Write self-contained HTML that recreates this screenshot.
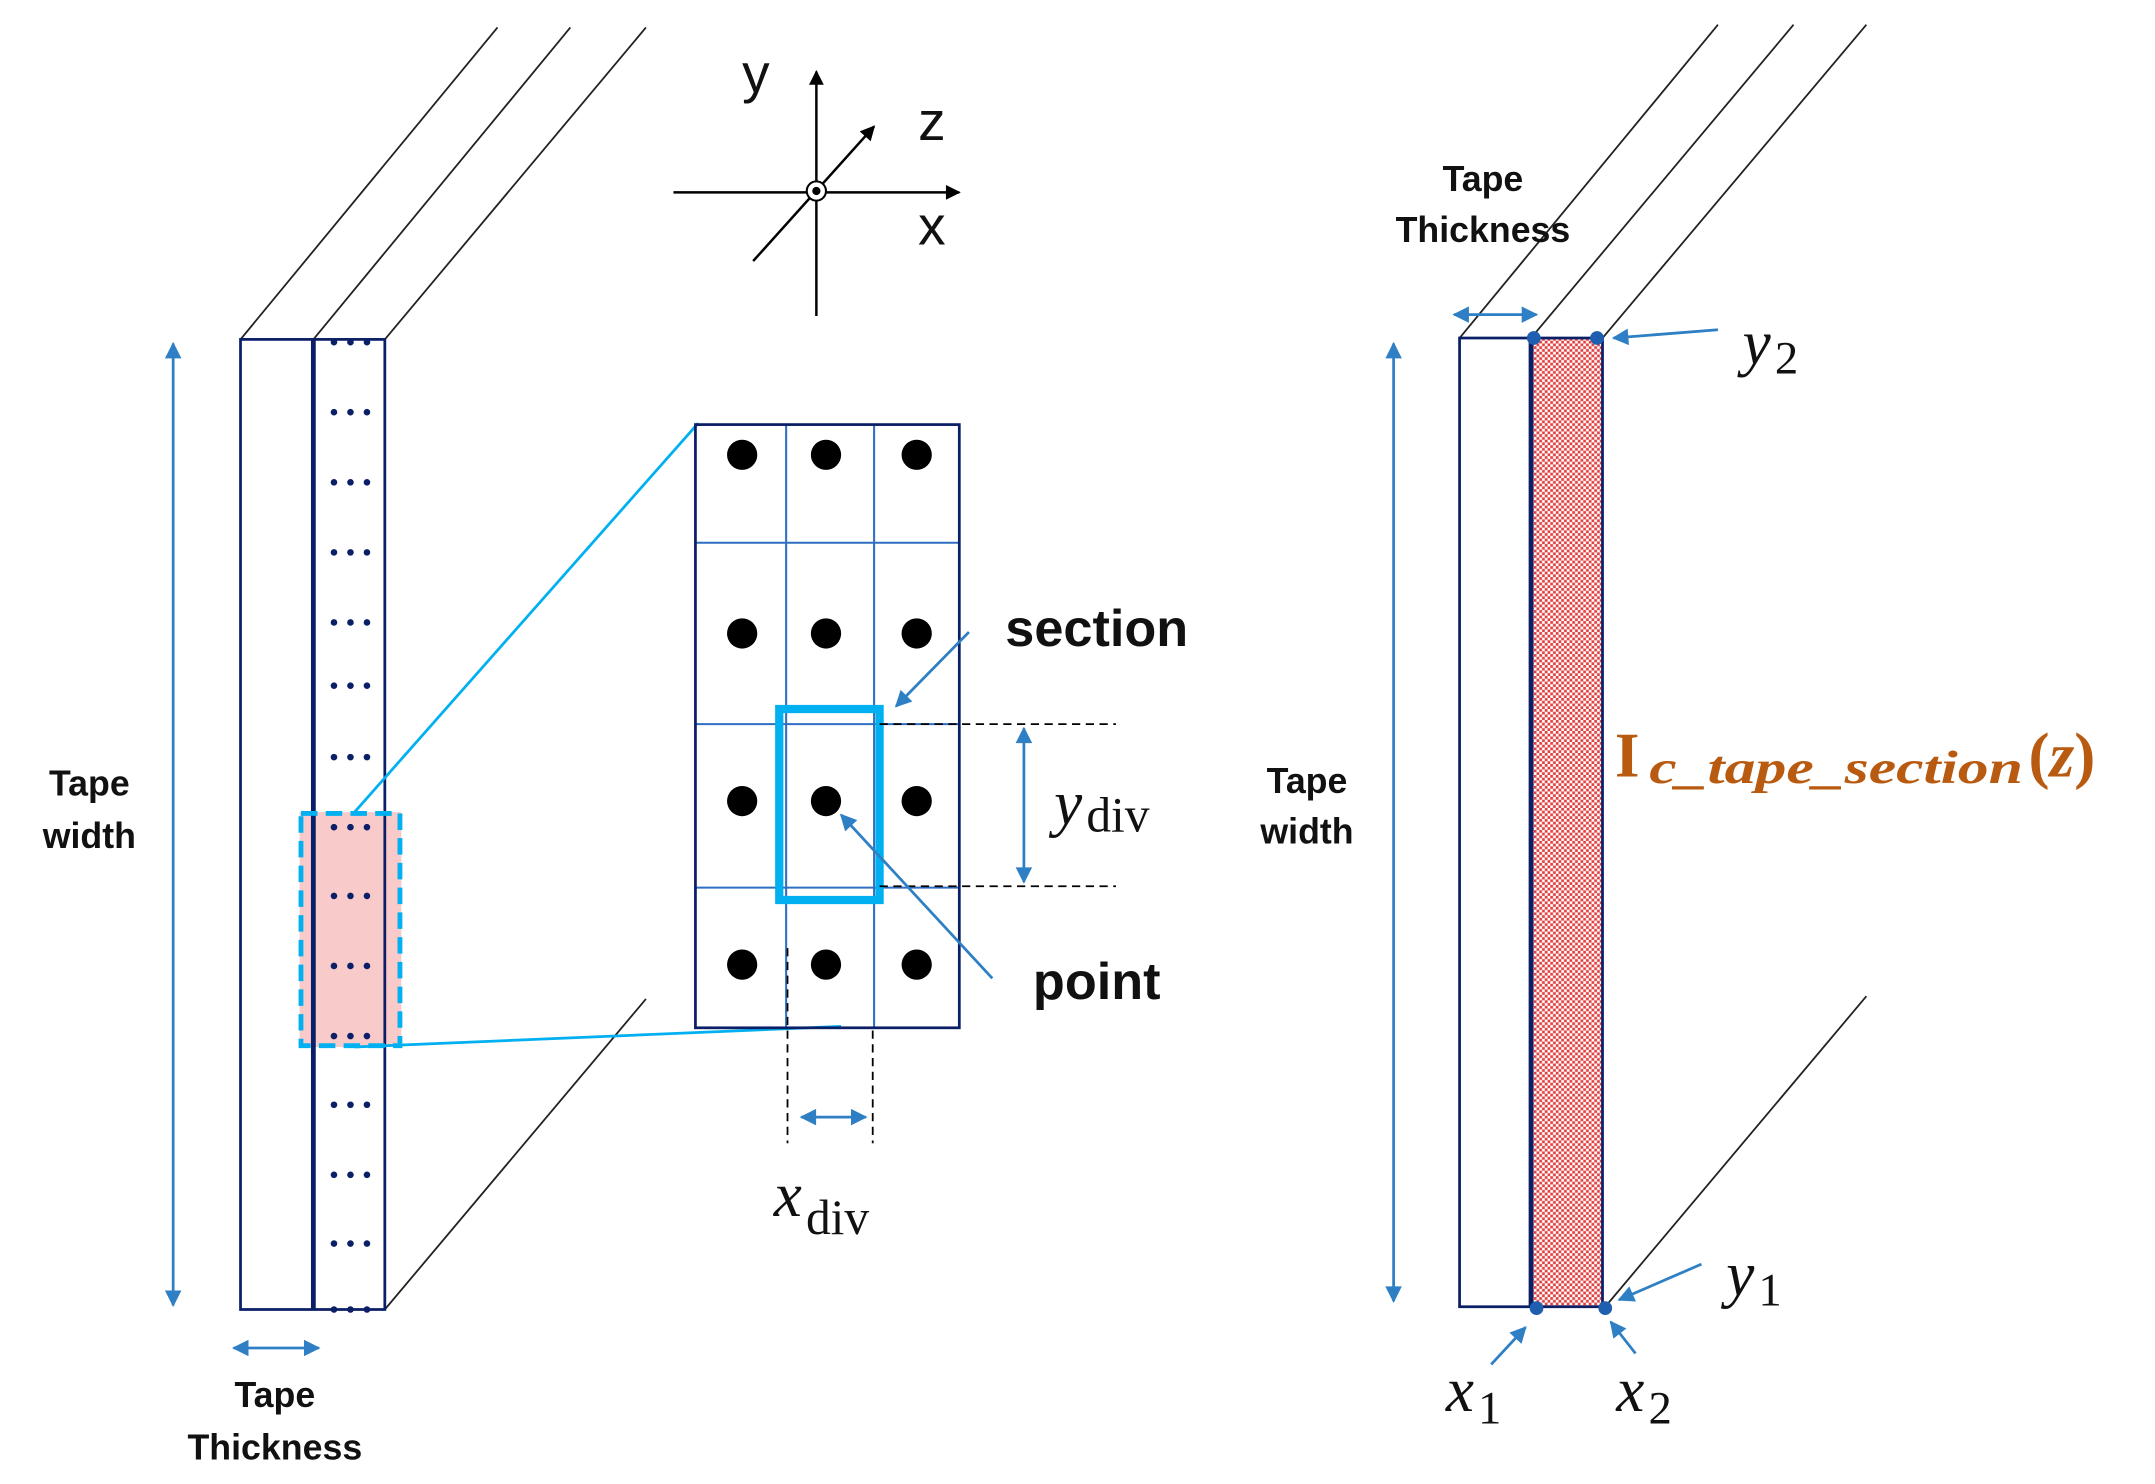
<!DOCTYPE html>
<html><head><meta charset="utf-8"><style>html,body{margin:0;padding:0;background:#fff}svg{display:block}</style></head>
<body>
<svg width="2155" height="1484" viewBox="0 0 1568 1080" preserveAspectRatio="none" xmlns="http://www.w3.org/2000/svg">
<defs>
<marker id="ab" viewBox="0 0 10 10" refX="9" refY="5" markerWidth="7" markerHeight="6" orient="auto-start-reverse"><path d="M0,0L10,5L0,10z" fill="#2e7fc4"/></marker>
<marker id="ak" viewBox="0 0 10 10" refX="9" refY="5" markerWidth="7" markerHeight="6" orient="auto-start-reverse"><path d="M0,0L10,5L0,10z" fill="#000"/></marker>
<pattern id="hatch" width="4" height="4" patternUnits="userSpaceOnUse"><rect width="4" height="4" fill="#fff"/><rect width="2" height="2" fill="#e04040"/><rect x="2" y="2" width="2" height="2" fill="#e04040"/></pattern>
</defs>
<g stroke="#222" stroke-width="1.3" fill="none">
<line x1="175" y1="247" x2="362" y2="20"/><line x1="228" y1="247" x2="415" y2="20"/><line x1="280" y1="247" x2="470" y2="20"/><line x1="280" y1="953" x2="470" y2="727"/>
<line x1="1062" y1="246" x2="1250" y2="18"/><line x1="1114" y1="246" x2="1305" y2="18"/><line x1="1166" y1="246" x2="1358" y2="18"/><line x1="1168" y1="951" x2="1358" y2="725"/>
</g>
<rect x="218" y="591" width="74" height="171" fill="#f9caca"/>
<rect x="175" y="247" width="105" height="706" fill="none" stroke="#0b1f66" stroke-width="2"/>
<line x1="228" y1="247" x2="228" y2="953" stroke="#0b1f66" stroke-width="3.5"/>
<g fill="#0b1f66">
<circle cx="243" cy="249" r="2.4"/><circle cx="255" cy="249" r="2.4"/><circle cx="267" cy="249" r="2.4"/>
<circle cx="243" cy="300" r="2.4"/><circle cx="255" cy="300" r="2.4"/><circle cx="267" cy="300" r="2.4"/>
<circle cx="243" cy="351" r="2.4"/><circle cx="255" cy="351" r="2.4"/><circle cx="267" cy="351" r="2.4"/>
<circle cx="243" cy="402" r="2.4"/><circle cx="255" cy="402" r="2.4"/><circle cx="267" cy="402" r="2.4"/>
<circle cx="243" cy="453" r="2.4"/><circle cx="255" cy="453" r="2.4"/><circle cx="267" cy="453" r="2.4"/>
<circle cx="243" cy="499" r="2.4"/><circle cx="255" cy="499" r="2.4"/><circle cx="267" cy="499" r="2.4"/>
<circle cx="243" cy="551" r="2.4"/><circle cx="255" cy="551" r="2.4"/><circle cx="267" cy="551" r="2.4"/>
<circle cx="243" cy="602" r="2.4"/><circle cx="255" cy="602" r="2.4"/><circle cx="267" cy="602" r="2.4"/>
<circle cx="243" cy="652" r="2.4"/><circle cx="255" cy="652" r="2.4"/><circle cx="267" cy="652" r="2.4"/>
<circle cx="243" cy="703" r="2.4"/><circle cx="255" cy="703" r="2.4"/><circle cx="267" cy="703" r="2.4"/>
<circle cx="243" cy="754" r="2.4"/><circle cx="255" cy="754" r="2.4"/><circle cx="267" cy="754" r="2.4"/>
<circle cx="243" cy="804" r="2.4"/><circle cx="255" cy="804" r="2.4"/><circle cx="267" cy="804" r="2.4"/>
<circle cx="243" cy="855" r="2.4"/><circle cx="255" cy="855" r="2.4"/><circle cx="267" cy="855" r="2.4"/>
<circle cx="243" cy="905" r="2.4"/><circle cx="255" cy="905" r="2.4"/><circle cx="267" cy="905" r="2.4"/>
<circle cx="243" cy="953" r="2.4"/><circle cx="255" cy="953" r="2.4"/><circle cx="267" cy="953" r="2.4"/>
</g>
<rect x="219" y="592" width="72" height="169" fill="none" stroke="#00b0f0" stroke-width="3.5" stroke-dasharray="12,6"/>
<line x1="258" y1="591" x2="508" y2="308" stroke="#00b0f0" stroke-width="2"/>
<line x1="258" y1="762" x2="612" y2="747" stroke="#00b0f0" stroke-width="2"/>
<line x1="126" y1="250" x2="126" y2="950" stroke="#2e7fc4" stroke-width="2" marker-start="url(#ab)" marker-end="url(#ab)"/>
<line x1="170" y1="981" x2="232" y2="981" stroke="#2e7fc4" stroke-width="2" marker-start="url(#ab)" marker-end="url(#ab)"/>
<g font-family="Liberation Sans, sans-serif" font-weight="bold" font-size="26" fill="#111" text-anchor="middle">
<text x="65" y="579">Tape</text><text x="65" y="617">width</text>
<text x="200" y="1024">Tape</text><text x="200" y="1062">Thickness</text>
<text x="951" y="577">Tape</text><text x="951" y="614">width</text>
<text x="1079" y="139">Tape</text><text x="1079" y="176">Thickness</text>
<text x="798" y="470" font-size="38">section</text>
<text x="798" y="727" font-size="38">point</text>
</g>
<g stroke="#2e6fc4" stroke-width="1.5">
<line x1="572" y1="309" x2="572" y2="748"/><line x1="636" y1="309" x2="636" y2="748"/>
<line x1="506" y1="395" x2="698" y2="395"/><line x1="506" y1="527" x2="698" y2="527"/><line x1="506" y1="646" x2="698" y2="646"/>
</g>
<rect x="506" y="309" width="192" height="439" fill="none" stroke="#0b1f66" stroke-width="2"/>
<g fill="#000">
<circle cx="540" cy="331" r="11"/><circle cx="601" cy="331" r="11"/><circle cx="667" cy="331" r="11"/>
<circle cx="540" cy="461" r="11"/><circle cx="601" cy="461" r="11"/><circle cx="667" cy="461" r="11"/>
<circle cx="540" cy="583" r="11"/><circle cx="601" cy="583" r="11"/><circle cx="667" cy="583" r="11"/>
<circle cx="540" cy="702" r="11"/><circle cx="601" cy="702" r="11"/><circle cx="667" cy="702" r="11"/>
</g>
<rect x="567" y="516" width="73" height="139" fill="none" stroke="#00b0f0" stroke-width="6"/>
<g stroke="#000" stroke-width="1.3" stroke-dasharray="6,4">
<line x1="640" y1="527" x2="812" y2="527"/><line x1="640" y1="645" x2="812" y2="645"/>
<line x1="573" y1="690" x2="573" y2="832"/><line x1="635" y1="750" x2="635" y2="832"/>
</g>
<line x1="745" y1="530" x2="745" y2="642" stroke="#2e7fc4" stroke-width="2" marker-start="url(#ab)" marker-end="url(#ab)"/>
<line x1="583" y1="813" x2="630" y2="813" stroke="#2e7fc4" stroke-width="2" marker-start="url(#ab)" marker-end="url(#ab)"/>
<line x1="705" y1="460" x2="652" y2="514" stroke="#2e7fc4" stroke-width="2" marker-end="url(#ab)"/>
<line x1="722" y1="712" x2="612" y2="593" stroke="#2e7fc4" stroke-width="2" marker-end="url(#ab)"/>
<g font-family="Liberation Serif, serif" fill="#111" font-size="46">
<text x="767" y="600"><tspan font-style="italic">y</tspan><tspan font-size="36" dy="5" dx="3">div</tspan></text>
<text x="563" y="885"><tspan font-style="italic">x</tspan><tspan font-size="36" dy="13" dx="3">div</tspan></text>
<text x="1268" y="265"><tspan font-style="italic">y</tspan><tspan font-size="34" dy="7" dx="3">2</tspan></text>
<text x="1256" y="943"><tspan font-style="italic">y</tspan><tspan font-size="34" dy="7" dx="3">1</tspan></text>
<text x="1052" y="1027"><tspan font-style="italic">x</tspan><tspan font-size="34" dy="9" dx="3">1</tspan></text>
<text x="1176" y="1027"><tspan font-style="italic">x</tspan><tspan font-size="34" dy="9" dx="3">2</tspan></text>
</g>
<line x1="490" y1="140" x2="698" y2="140" stroke="#000" stroke-width="1.8" marker-end="url(#ak)"/>
<line x1="594" y1="230" x2="594" y2="52" stroke="#000" stroke-width="1.8" marker-end="url(#ak)"/>
<line x1="548" y1="190" x2="636" y2="92" stroke="#000" stroke-width="1.8" marker-end="url(#ak)"/>
<circle cx="594" cy="139" r="7" fill="#fff" stroke="#000" stroke-width="1.5"/><circle cx="594" cy="139" r="3" fill="#000"/>
<g font-family="Liberation Sans, sans-serif" font-size="40" fill="#111">
<text x="540" y="67">y</text><text x="668" y="102">z</text><text x="668" y="178">x</text>
</g>
<rect x="1114" y="246" width="52" height="705" fill="url(#hatch)"/>
<rect x="1062" y="246" width="104" height="705" fill="none" stroke="#0b1f66" stroke-width="2"/>
<line x1="1114" y1="246" x2="1114" y2="951" stroke="#0b1f66" stroke-width="3.5"/>
<line x1="1014" y1="250" x2="1014" y2="947" stroke="#2e7fc4" stroke-width="2" marker-start="url(#ab)" marker-end="url(#ab)"/>
<line x1="1058" y1="229" x2="1118" y2="229" stroke="#2e7fc4" stroke-width="2" marker-start="url(#ab)" marker-end="url(#ab)"/>
<g fill="#1f5fb0"><circle cx="1116" cy="246" r="5"/><circle cx="1162" cy="246" r="5"/><circle cx="1118" cy="952" r="5"/><circle cx="1168" cy="952" r="5"/></g>
<g stroke="#2e7fc4" stroke-width="2">
<line x1="1250" y1="240" x2="1174" y2="246" marker-end="url(#ab)"/>
<line x1="1238" y1="920" x2="1178" y2="946" marker-end="url(#ab)"/>
<line x1="1085" y1="993" x2="1110" y2="966" marker-end="url(#ab)"/>
<line x1="1190" y1="985" x2="1172" y2="962" marker-end="url(#ab)"/>
</g>
<g font-family="Liberation Serif, serif" font-weight="bold" fill="#b85a10">
<text x="1175" y="565" font-size="46">I</text>
<text x="1200" y="570" font-size="34" font-style="italic" textLength="272" lengthAdjust="spacingAndGlyphs">c_tape_section</text>
<text x="1476" y="565" font-size="46">(<tspan font-style="italic">z</tspan>)</text>
</g>
</svg>
</body></html>
